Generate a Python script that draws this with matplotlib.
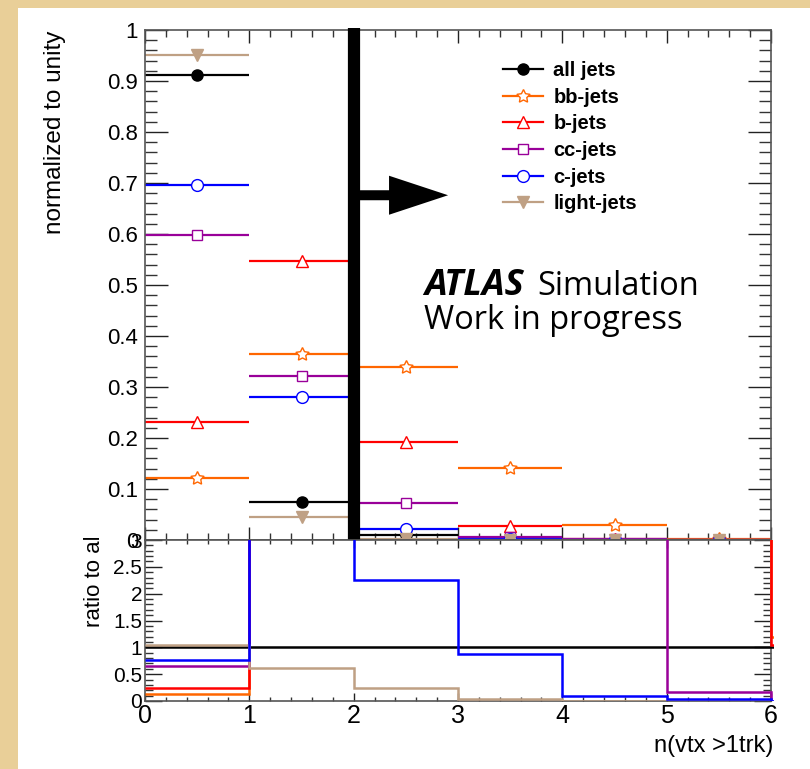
import numpy as np
import matplotlib
matplotlib.use('Agg')
import matplotlib.pyplot as plt
from matplotlib.lines import Line2D
from matplotlib.patches import Rectangle, FancyArrow
from matplotlib.ticker import MultipleLocator, FuncFormatter
from matplotlib.transforms import blended_transform_factory, Bbox, TransformedBbox

# ---- data ----
bin_edges = [0, 1, 2, 3, 4, 5, 6]
bin_centers = [0.5, 1.5, 2.5, 3.5, 4.5, 5.5]

all_jets   = [0.912, 0.075, 0.0096, 0.003, 0.0004, 0.0]
bb_jets    = [0.122, 0.365, 0.340, 0.141, 0.029, 0.002]
b_jets     = [0.232, 0.547, 0.192, 0.027, 0.002, 0.0003]
cc_jets    = [0.598, 0.322, 0.072, 0.005, 0.002, 0.0001]
c_jets     = [0.696, 0.280, 0.0216, 0.0026, 0.0001, 0.0]
light_jets = [0.951, 0.046, 0.0024, 0.0001, 0.0, 0.0]

# ratio hists have one extra bin past the axis end (6-7)
ratio_edges = [0, 1, 2, 3, 4, 5, 6, 7]
ratio_all   = [1, 1, 1, 1, 1, 1, 1]
ratio_bb    = [0.13, 4.9, 35.0, 47.0, 15.0, 4.0, 1.2]
ratio_b     = [0.25, 7.3, 20.0, 9.0, 5.0, 4.0, 1.05]
ratio_cc    = [0.66, 4.3, 7.5, 3.5, 3.5, 0.17, 0.0]
ratio_c     = [0.77, 3.7, 2.25, 0.87, 0.09, 0.03, 0.0]
ratio_light = [1.04, 0.62, 0.25, 0.03, 0.005, 0.0, 0.0]

labels = ['all jets', 'bb-jets', 'b-jets', 'cc-jets', 'c-jets', 'light-jets']
colors = ['black', '#ff6600', '#ff0000', '#990099', '#0000ff', '#bfa084']

plt.rcParams['font.family'] = ['Liberation Sans', 'DejaVu Sans']

W, H = 810, 769
fig = plt.figure(figsize=(W/100, H/100), dpi=100)
fig.patch.set_facecolor('#e9cf98')
fig.patches.append(Rectangle((18/W, 0), 1-18/W, 1-8/H, transform=fig.transFigure,
                             facecolor='white', edgecolor='none', zorder=-10))

ax = fig.add_axes([145/W, 1-540/H, 626/W, 510/H])
rx = fig.add_axes([145/W, 1-701/H, 626/W, 161/H])

#------------- top panel
markers = dict(zip(labels, ['o', (5, 1, 0), '^', 's', 'o', 'v']))
filled = dict(zip(labels, [True, False, False, False, False, True]))
msizes = dict(zip(labels, [8, 10, 9, 7.5, 8.5, 9]))
series = dict(zip(labels, [all_jets, bb_jets, b_jets, cc_jets, c_jets, light_jets]))

handles = []
for lab, col in zip(labels, colors):
    mfc = col if filled[lab] else 'white'
    ax.errorbar(bin_centers, series[lab], xerr=0.5, fmt='none', ecolor=col,
                elinewidth=1.6, capsize=0)
    ax.plot(bin_centers, series[lab], ls='none', marker=markers[lab], mfc=mfc,
            mec=col, ms=msizes[lab], mew=1.0)
    handles.append(Line2D([], [], color=col, lw=1.6, marker=markers[lab], mfc=mfc,
                          mec=col, ms=msizes[lab], mew=1.0))

ax.set_xlim(0, 6); ax.set_ylim(0, 1)
ax.yaxis.set_major_locator(MultipleLocator(0.1))
ax.yaxis.set_minor_locator(MultipleLocator(0.02))
ax.xaxis.set_major_locator(MultipleLocator(1))
ax.xaxis.set_minor_locator(MultipleLocator(0.2))
ax.yaxis.set_major_formatter(FuncFormatter(lambda v, p: '%g' % round(v, 2)))
ax.tick_params(axis='y', which='major', direction='in', length=16.5, width=1, labelsize=16,
               left=True, right=True, pad=5, color='#222222')
ax.tick_params(axis='y', which='minor', direction='in', length=8.5, width=1,
               left=True, right=True, color='#333333')
ax.tick_params(axis='x', which='major', direction='in', length=9.5, width=1,
               top=True, bottom=True, labelbottom=False, color='#222222')
ax.tick_params(axis='x', which='minor', direction='in', length=5, width=1,
               top=True, bottom=True, color='#333333')
for s in ax.spines.values():
    s.set_color('#555555'); s.set_linewidth(1.2)
fig.text(55/W, 1-31/H, 'normalized to unity', rotation=90, fontsize=17.5,
         ha='center', va='top')

ax.legend(handles, labels, loc='upper left', bbox_to_anchor=(503/W, 1-61/H),
          bbox_transform=fig.transFigure, frameon=False, borderpad=0, borderaxespad=0,
          handlelength=2.0, handletextpad=0.5, labelspacing=0.38, numpoints=1,
          prop={'family': 'Liberation Sans', 'weight': 'bold', 'size': 14.5})

fig.text(424/W, 1-295/H, 'ATLAS', fontsize=26, va='baseline',
         family='Open Sans', weight='bold', style='italic')
fig.text(537/W, 1-295/H, 'Simulation', fontsize=23.5, va='baseline', family='Open Sans')
fig.text(424/W, 1-329/H, 'Work in progress', fontsize=23.5, va='baseline', family='Open Sans')

# thick line at 2 through both panels and arrow
tr = blended_transform_factory(ax.transData, fig.transFigure)
ax.plot([2, 2], [1-700/H, 1-28/H], transform=tr, color='black', lw=8.8,
        solid_capstyle='butt', clip_on=False, zorder=10)
ax.add_patch(FancyArrow(2.0, 0.676, 0.905, 0, width=0.0196, head_width=0.0765,
                        head_length=0.566, length_includes_head=True,
                        color='black', lw=0, zorder=10))

#------------- ratio panel
ratio_series = [ratio_all, ratio_bb, ratio_b, ratio_cc, ratio_light, ratio_c]
ratio_cols = [colors[0], colors[1], colors[2], colors[3], colors[5], colors[4]]
clip = TransformedBbox(Bbox([[0, 0], [1.004, 1]]), rx.transAxes)
for vals, col in zip(ratio_series, ratio_cols):
    st = rx.stairs(vals, ratio_edges, baseline=None, color=col, lw=1.8, zorder=3)
    st.set_clip_box(clip)

rx.set_xlim(0, 6); rx.set_ylim(0, 3)
rx.yaxis.set_major_locator(MultipleLocator(0.5))
rx.yaxis.set_minor_locator(MultipleLocator(0.1))
rx.xaxis.set_major_locator(MultipleLocator(1))
rx.xaxis.set_minor_locator(MultipleLocator(0.2))
rx.yaxis.set_major_formatter(FuncFormatter(lambda v, p: '%g' % v))
rx.tick_params(axis='y', which='major', direction='in', length=12, width=1, labelsize=15,
               left=True, right=True, pad=2, color='#222222')
rx.tick_params(axis='y', which='minor', direction='in', length=6, width=1,
               left=True, right=True, color='#333333')
rx.tick_params(axis='x', which='major', direction='in', length=6, width=1, labelsize=18,
               top=True, bottom=True, pad=2, color='#222222')
rx.tick_params(axis='x', which='minor', direction='in', length=3, width=1,
               top=True, bottom=True, color='#333333')
for s in rx.spines.values():
    s.set_color('#555555'); s.set_linewidth(1.2)
fig.text(773/W, 1-752/H, 'n(vtx >1trk)', fontsize=17, ha='right', va='baseline')

rl = fig.text(95/W, 1-530/H, 'ratio to all', rotation=90, fontsize=16,
              ha='center', va='top')
rl.set_clip_box(TransformedBbox(Bbox([[0, 0], [1, 1-538/H]]), fig.transFigure))
rl.set_clip_on(True)

fig.savefig('out.png', dpi=100, facecolor=fig.get_facecolor())
